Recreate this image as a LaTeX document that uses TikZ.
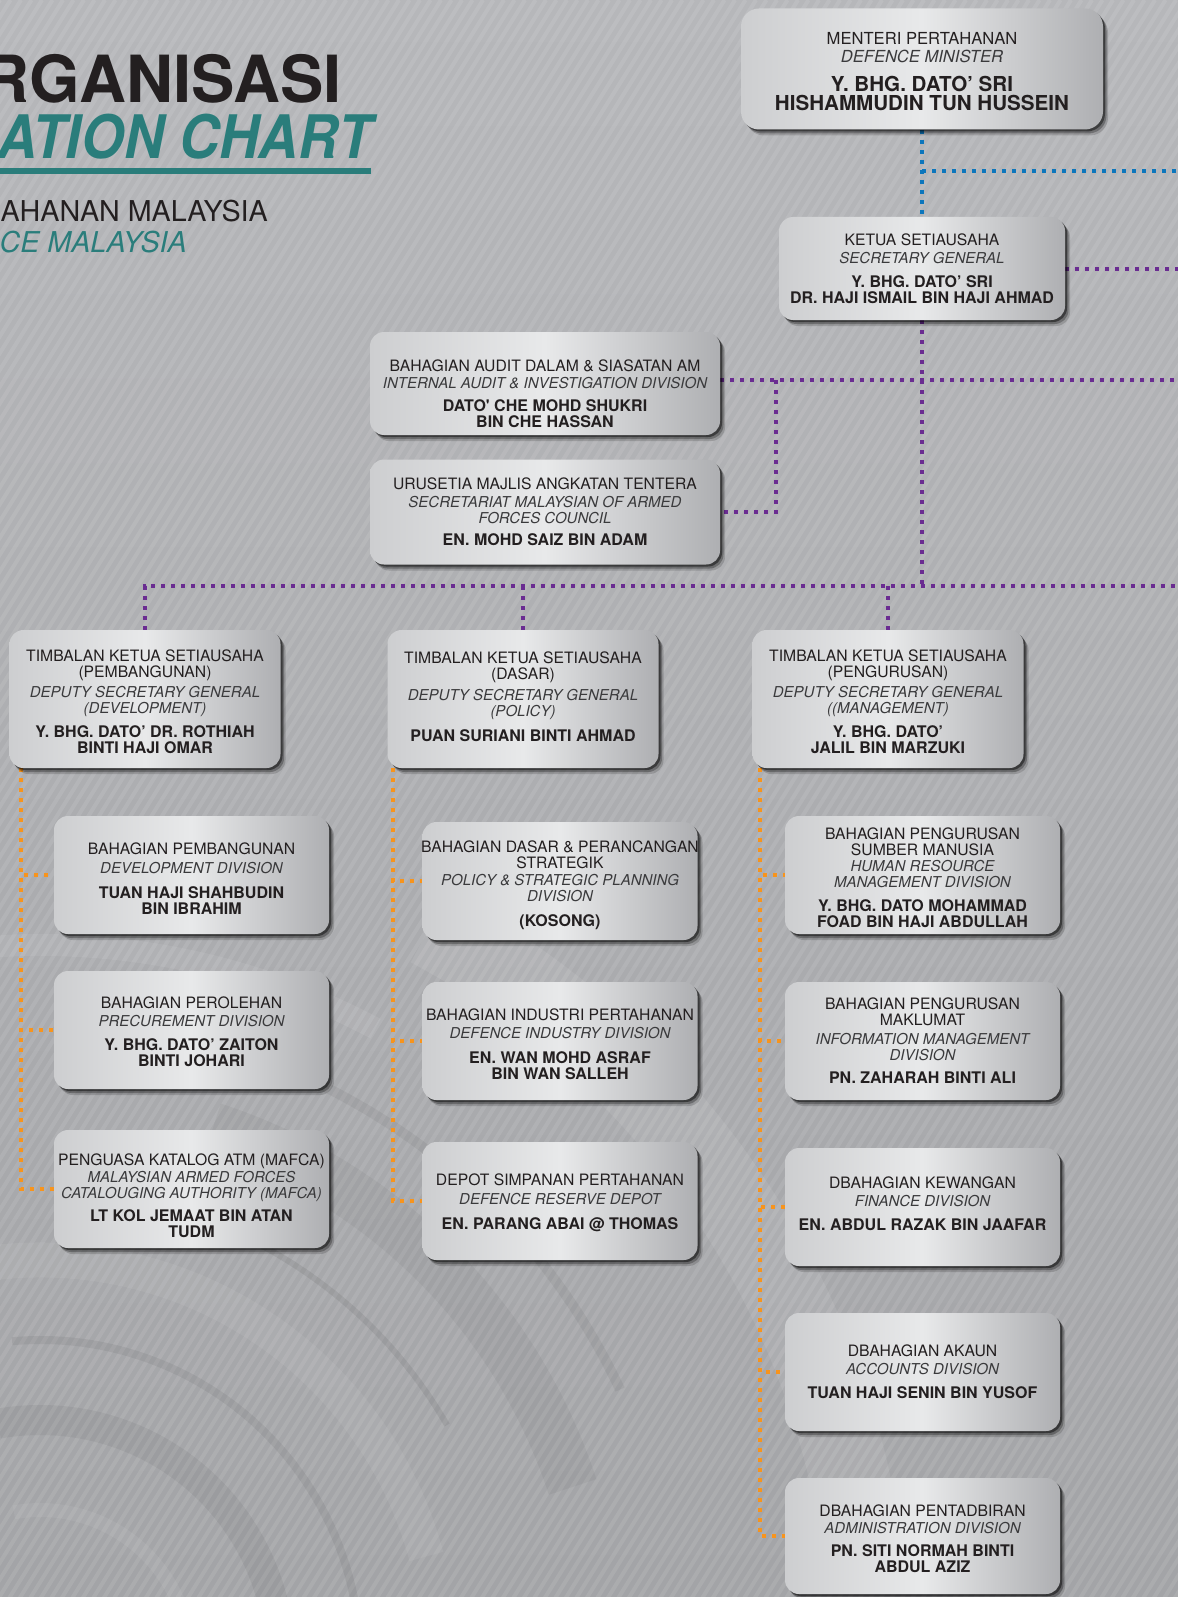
\documentclass[tikz,border=0pt]{standalone}
\usepackage{fontspec}
\setmainfont{TeX Gyre Heros}
\usetikzlibrary{calc}
\definecolor{ink}{HTML}{231F20}
\definecolor{itink}{HTML}{3A3A3C}
\definecolor{teal2}{HTML}{2A7D7B}
\definecolor{purp}{HTML}{6A2C91}
\definecolor{blu}{HTML}{0C76BC}
\definecolor{orng}{HTML}{F7941D}
\definecolor{bgtop}{HTML}{B6B7BA}
\definecolor{bgbot}{HTML}{A3A4A7}
\definecolor{boxl}{HTML}{CDCED0}
\definecolor{boxm}{HTML}{E8E9EA}
\definecolor{boxr}{HTML}{AEAFB2}
\newcommand\oit[1]{{\fontsize{15}{16}\selectfont\itshape\color{itink}#1}}
\newcommand\obf[1]{{\fontsize{16}{16}\selectfont\bfseries #1}}
\newcommand\mbf[1]{{\fontsize{20.6}{18}\selectfont\bfseries #1}}
% style, name, cx, cy, text dy, text
\newcommand\obox[6]{%
  \node[#1] (#2) at (#3,#4) {};
  \node[boxtext] (#2t) at (#3,#4+#5) {#6};}
\pgfdeclarelayer{bg}
\pgfsetlayers{bg,main}
\begin{document}
\begin{tikzpicture}[x=1pt,y=-1pt,
 orgbox/.style={rounded corners=14pt, left color=boxl, right color=boxr, middle color=boxm,
   preaction={fill=black, fill opacity=0.16, transform canvas={shift={(5pt,-6pt)}}},
   preaction={fill=black, fill opacity=0.28, transform canvas={shift={(3.5pt,-4pt)}}},
   preaction={fill=black, fill opacity=0.45, transform canvas={shift={(2pt,-2pt)}}},
   inner sep=0pt},
 boxtext/.style={align=center, text=ink, font=\fontsize{15.7}{16}\selectfont, inner sep=0pt},
 childbox/.style={orgbox, minimum width=275pt, minimum height=118pt},
 depbox/.style={orgbox, minimum width=271pt, minimum height=138pt},
 conn/.style={line width=4pt, dash pattern=on 4pt off 6pt},
 pline/.style={conn, draw=purp},
 bline/.style={conn, draw=blu},
 oline/.style={conn, draw=orng},
 ring/.style={line width=#1},
]
\useasboundingbox (0,0) rectangle (1189,1597);
\begin{pgfonlayer}{bg}
\fill[bgbot] (0,0) rectangle (1178,1597);
\shade[top color=bgtop, bottom color=bgbot] (0,0) rectangle (1178,1597);
\fill[white] (1178,0) rectangle (1189,1597);
\begin{scope}
\clip (0,0) rectangle (1178,1597);
\foreach \i in {-1000,-989.5,...,1180} {
  \draw[white, opacity=0.09, line width=4pt] (\i,1600) -- ++(1000,-1600);
}
\coordinate (hub) at (40,1660);
\draw[white, opacity=.08, ring=80pt] ($(hub)+(-62:830)$) arc[start angle=-62, end angle=-5, radius=830];
\draw[white, opacity=.07, ring=22pt] ($(hub)+(-100:715)$) arc[start angle=-100, end angle=-62, radius=715];
\draw[black, opacity=.05, ring=10pt] ($(hub)+(-75:640)$) arc[start angle=-75, end angle=-25, radius=640];
\draw[black, opacity=.04, ring=50pt] ($(hub)+(-72:560)$) arc[start angle=-72, end angle=-18, radius=560];
\draw[black, opacity=.07, ring=6pt] ($(hub)+(-88:470)$) arc[start angle=-88, end angle=-30, radius=470];
\draw[white, opacity=.06, ring=35pt] ($(hub)+(-100:400)$) arc[start angle=-100, end angle=-15, radius=400];
\draw[black, opacity=.06, ring=8pt] ($(hub)+(-95:320)$) arc[start angle=-95, end angle=-10, radius=320];
\draw[black, opacity=.05, ring=30pt] ($(hub)+(-100:240)$) arc[start angle=-100, end angle=0, radius=240];
\draw[white, opacity=.06, ring=14pt] ($(hub)+(-100:150)$) arc[start angle=-100, end angle=0, radius=150];
\end{scope}
\end{pgfonlayer}

% titles
\node[anchor=base east, inner sep=0pt, font=\fontsize{65}{65}\selectfont\bfseries, text=ink] (t1) at (342,102.7) {RGANISASI};
\node[anchor=base east, inner sep=0pt, font=\fontsize{60}{60}\selectfont\bfseries\itshape, text=teal2] (t2) at (372,159) {\scalebox{0.92}[1]{ATION CHART}};
\fill[teal2] (0,168) rectangle (371,174);
\node[anchor=base east, inner sep=0pt, font=\fontsize{28.7}{29}\selectfont, text=ink] (t3) at (268,222) {AHANAN MALAYSIA};
\node[anchor=base east, inner sep=0pt, font=\fontsize{28.7}{29}\selectfont\itshape, text=teal2] (t4) at (187,253) {CE MALAYSIA};

% top
\node[orgbox, rounded corners=18pt, minimum width=362pt, minimum height=121pt] (min) at (922,69) {};
\node[boxtext, font=\fontsize{16.6}{17.5}\selectfont] (mint) at (922,72)
 {MENTERI PERTAHANAN\\{\itshape\color{itink}DEFENCE MINISTER}\\[12pt]\mbf{Y. BHG. DATO’ SRI}\\[1.5pt]\mbf{HISHAMMUDIN TUN HUSSEIN}};
\obox{orgbox, minimum width=286pt, minimum height=103pt}{sec}{922}{268.5}{0}
 {KETUA SETIAUSAHA\\[2pt]\oit{SECRETARY GENERAL}\\[8pt]\obf{Y. BHG. DATO’ SRI}\\\obf{DR. HAJI ISMAIL BIN HAJI AHMAD}}
\obox{orgbox, minimum width=350pt, minimum height=103pt}{audit}{545}{383.5}{10.5}
 {BAHAGIAN AUDIT DALAM \& SIASATAN AM\\[1pt]\oit{INTERNAL AUDIT \& INVESTIGATION DIVISION}\\[7pt]\obf{DATO\textquotesingle\ CHE MOHD SHUKRI}\\\obf{BIN CHE HASSAN}}
\obox{orgbox, minimum width=350pt, minimum height=105pt}{sam}{545}{512}{0}
 {URUSETIA MAJLIS ANGKATAN TENTERA\\[2pt]\oit{SECRETARIAT MALAYSIAN OF ARMED}\\\oit{FORCES COUNCIL}\\[6pt]\obf{EN. MOHD SAIZ BIN ADAM}}

% deputies
\obox{depbox}{dl}{145}{699}{2.5}
 {TIMBALAN KETUA SETIAUSAHA\\(PEMBANGUNAN)\\[4pt]\oit{DEPUTY SECRETARY GENERAL}\\\oit{(DEVELOPMENT)}\\[8pt]\obf{Y. BHG. DATO’ DR. ROTHIAH}\\\obf{BINTI HAJI OMAR}}
\obox{depbox}{dm}{523}{699}{-2}
 {TIMBALAN KETUA SETIAUSAHA\\(DASAR)\\[5pt]\oit{DEPUTY SECRETARY GENERAL}\\\oit{(POLICY)}\\[9pt]\obf{PUAN SURIANI BINTI AHMAD}}
\obox{depbox}{dr}{888}{699}{2.5}
 {TIMBALAN KETUA SETIAUSAHA\\(PENGURUSAN)\\[4pt]\oit{DEPUTY SECRETARY GENERAL}\\\oit{((MANAGEMENT)}\\[8pt]\obf{Y. BHG. DATO’}\\\obf{JALIL BIN MARZUKI}}

% left column
\obox{childbox}{l1}{191.5}{875}{4}
 {BAHAGIAN PEMBANGUNAN\\[3pt]\oit{DEVELOPMENT DIVISION}\\[9pt]\obf{TUAN HAJI SHAHBUDIN}\\\obf{BIN IBRAHIM}}
\obox{childbox}{l2}{191.5}{1030}{1.5}
 {BAHAGIAN PEROLEHAN\\[2pt]\oit{PRECUREMENT DIVISION}\\[8pt]\obf{Y. BHG. DATO’ ZAITON}\\\obf{BINTI JOHARI}}
\obox{childbox}{l3}{191.5}{1189}{7}
 {PENGUASA KATALOG ATM (MAFCA)\\[1pt]\oit{MALAYSIAN ARMED FORCES}\\\oit{CATALOUGING AUTHORITY (MAFCA)}\\[7pt]\obf{LT KOL JEMAAT BIN ATAN}\\\obf{TUDM}}

% middle column
\obox{childbox}{m1}{560}{881}{4}
 {BAHAGIAN DASAR \& PERANCANGAN\\STRATEGIK\\[1pt]\oit{POLICY \& STRATEGIC PLANNING}\\\oit{DIVISION}\\[9pt]\obf{(KOSONG)}}
\obox{childbox}{m2}{560}{1041}{3}
 {BAHAGIAN INDUSTRI PERTAHANAN\\[2pt]\oit{DEFENCE INDUSTRY DIVISION}\\[9pt]\obf{EN. WAN MOHD ASRAF}\\\obf{BIN WAN SALLEH}}
\obox{childbox}{m3}{560}{1201}{2}
 {DEPOT SIMPANAN PERTAHANAN\\[3pt]\oit{DEFENCE RESERVE DEPOT}\\[9pt]\obf{EN. PARANG ABAI @ THOMAS}}

% right column
\obox{childbox}{r1}{922.5}{875}{2.5}
 {BAHAGIAN PENGURUSAN\\SUMBER MANUSIA\\\oit{HUMAN RESOURCE}\\\oit{MANAGEMENT DIVISION}\\[8pt]\obf{Y. BHG. DATO MOHAMMAD}\\\obf{FOAD BIN HAJI ABDULLAH}}
\obox{childbox}{r2}{922.5}{1041}{0}
 {BAHAGIAN PENGURUSAN\\MAKLUMAT\\[3pt]\oit{INFORMATION MANAGEMENT}\\\oit{DIVISION}\\[7pt]\obf{PN. ZAHARAH BINTI ALI}}
\obox{childbox}{r3}{922.5}{1207}{-3}
 {DBAHAGIAN KEWANGAN\\[2pt]\oit{FINANCE DIVISION}\\[8pt]\obf{EN. ABDUL RAZAK BIN JAAFAR}}
\obox{childbox}{r4}{922.5}{1372}{0}
 {DBAHAGIAN AKAUN\\[2pt]\oit{ACCOUNTS DIVISION}\\[8pt]\obf{TUAN HAJI SENIN BIN YUSOF}}
\obox{childbox, minimum height=116pt}{r5}{922.5}{1536}{3}
 {DBAHAGIAN PENTADBIRAN\\[1pt]\oit{ADMINISTRATION DIVISION}\\[7pt]\obf{PN. SITI NORMAH BINTI}\\\obf{ABDUL AZIZ}}

% connectors
\begin{pgfonlayer}{bg}
\coordinate (bR) at (1178,171);
\coordinate (pR1) at (1178,270);
\coordinate (pR2) at (1178,380);
\coordinate (pJ) at (776,380);
\coordinate (pR3) at (1178,586);
\coordinate (oL) at (21,768);
\coordinate (oM) at (393,768);
\coordinate (oR) at (760,768);
\draw[bline] (min.south) -- (sec.north);
\draw[bline] (min.south |- bR) -- (bR);
\draw[pline] (sec.east) -- (pR1 |- sec.east);
\draw[pline] (audit.east |- pR2) -- (pR2);
\draw[pline] (pJ) |- (sam.east);
\draw[pline] (sec.south) -- (sec.south |- pR3);
\draw[pline] (dl.north) |- (pR3);
\draw[pline] (dm.north) -- (dm.north |- pR3);
\draw[pline] (dr.north) -- (dr.north |- pR3);
\foreach \c in {l1,l2,l3} \draw[oline] (oL) |- (\c.west);
\foreach \c in {m1,m2,m3} \draw[oline] (oM) |- (\c.west);
\foreach \c in {r1,r2,r3,r4,r5} \draw[oline] (oR) |- (\c.west);
\end{pgfonlayer}
\end{tikzpicture}
\end{document}
